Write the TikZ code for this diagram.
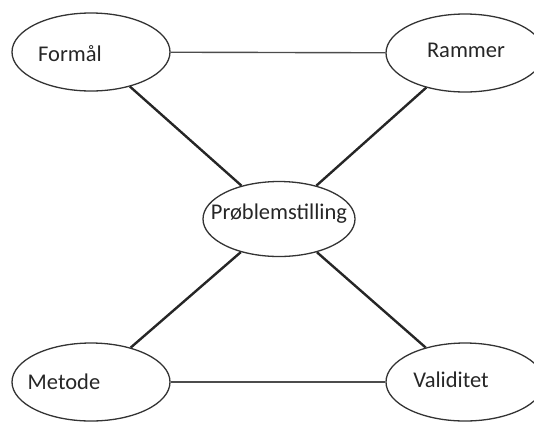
\documentclass[tikz,border=0pt]{standalone}
\usepackage{fontspec}
\setmainfont{Carlito}
\usetikzlibrary{shapes.geometric}
\begin{document}
\begin{tikzpicture}[x=1pt,y=-1pt,
  bubble/.style={ellipse, draw=black!80, line width=1.3pt, minimum width=158pt, minimum height=78pt, inner sep=0pt},
  lbl/.style={font=\fontsize{22.5}{26}\selectfont, text=black!85, inner sep=0pt},
  thinlink/.style={draw=black!70, line width=1.4pt},
  thicklink/.style={draw=black!85, line width=2.4pt}]
\useasboundingbox (0,0) rectangle (534,421);
\node[bubble] (formal) at (91,52) {};
\node[bubble] (rammer) at (465,53) {};
\node[bubble, minimum width=152pt, minimum height=75pt] (problem) at (279,219) {};
\node[bubble] (metode) at (91,382) {};
\node[bubble] (validitet) at (465,382) {};
\node[lbl] (tformal) at (70,54) {Formål};
\node[lbl] (trammer) at (466,50) {Rammer};
\node[lbl] (tproblem) at (279,214) {Prøblemstilling};
\node[lbl] (tmetode) at (64,382) {Metode};
\node[lbl] (tvaliditet) at (451,380) {Validitet};
\draw[thinlink] (formal) -- (rammer);
\draw[thinlink] (metode) -- (validitet);
\draw[thicklink] (formal) -- (problem);
\draw[thicklink] (rammer) -- (problem);
\draw[thicklink] (metode) -- (problem);
\draw[thicklink] (validitet) -- (problem);
\end{tikzpicture}
\end{document}
